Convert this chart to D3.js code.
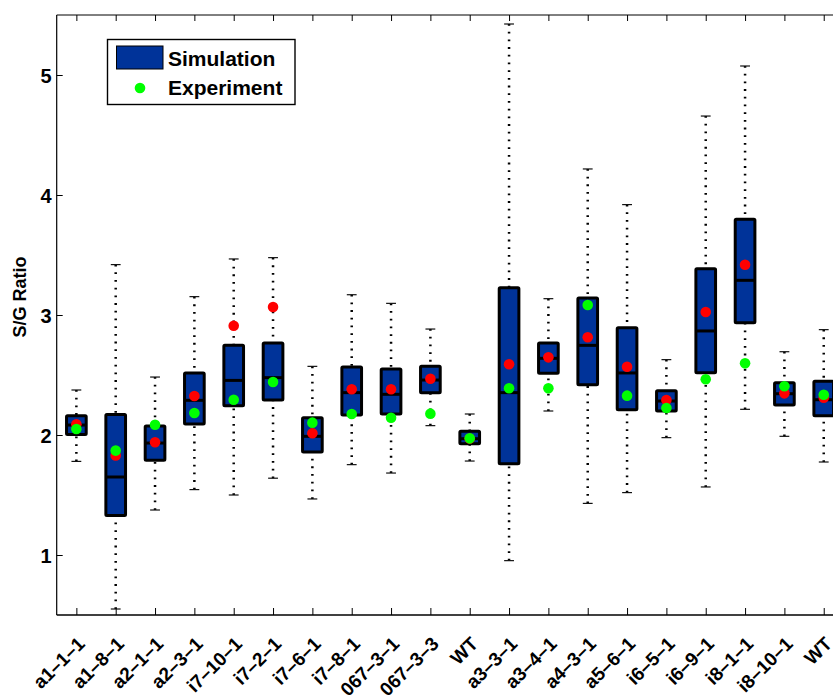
<!DOCTYPE html>
<html>
<head>
<meta charset="utf-8">
<script src="https://cdn.jsdelivr.net/npm/d3@7/dist/d3.min.js"></script>
<style>
  html, body { margin: 0; padding: 0; background: #fff; }
  svg { display: block; }
  text { font-family: "Liberation Sans", Arial, Helvetica, sans-serif; font-weight: bold; fill: #000; }
</style>
</head>
<body>
<svg id="chart" width="833" height="698"></svg>
<script>
// Line names along the x axis
const categories = ["a1–1–1", "a1–8–1", "a2–1–1", "a2–3–1", "i7–10–1", "i7–2–1", "i7–6–1", "i7–8–1",
  "067–3–1", "067–3–3", "WT", "a3–3–1", "a3–4–1", "a4–3–1", "a5–6–1", "i6–5–1", "i6–9–1",
  "i8–1–1", "i8–10–1", "WT"];

// Simulated S/G ratio distributions (box statistics)
const whiskerLow  = [1.78, 0.55, 1.375, 1.545, 1.50, 1.64, 1.467, 1.753, 1.683, 2.078, 1.783, 0.953, 2.20, 1.43, 1.52, 1.978, 1.567, 2.214, 1.989, 1.775];
const q1          = [2.005, 1.33, 1.79, 2.092, 2.244, 2.292, 1.858, 2.167, 2.175, 2.353, 1.928, 1.761, 2.514, 2.419, 2.211, 2.20, 2.519, 2.936, 2.25, 2.161];
const median      = [2.083, 1.65, 1.933, 2.289, 2.455, 2.478, 1.989, 2.353, 2.339, 2.458, 1.969, 2.353, 2.639, 2.747, 2.517, 2.283, 2.867, 3.289, 2.344, 2.294];
const q3          = [2.16, 2.17, 2.075, 2.517, 2.747, 2.767, 2.144, 2.567, 2.55, 2.572, 2.031, 3.228, 2.767, 3.142, 2.894, 2.369, 3.386, 3.797, 2.436, 2.447];
const whiskerHigh = [2.375, 3.42, 2.483, 3.153, 3.467, 3.478, 2.572, 3.169, 3.097, 2.883, 2.175, 5.425, 3.136, 4.217, 3.92, 2.628, 4.658, 5.075, 2.694, 2.878];

// Mean of the simulated values (red) and measured ratio (green)
const simMean    = [2.09, 1.83, 1.94, 2.325, 2.911, 3.067, 2.014, 2.381, 2.381, 2.469, 1.97, 2.589, 2.647, 2.814, 2.569, 2.292, 3.025, 3.419, 2.347, 2.311];
const experiment = [2.05, 1.87, 2.086, 2.183, 2.294, 2.442, 2.103, 2.175, 2.144, 2.178, 1.972, 2.389, 2.389, 3.083, 2.328, 2.225, 2.464, 2.597, 2.406, 2.336];

const yTicks = [1, 2, 3, 4, 5];
const yLabel = "S/G Ratio";
const legendItems = ["Simulation", "Experiment"];

const BOX_FILL = "#003399";
const svg = d3.select("#chart");

const plot = { left: 56.7, right: 843.4, top: 15, bottom: 615 };
const x = d3.scaleLinear().domain([0.5, categories.length + 0.5]).range([plot.left, plot.right]);
const y = d3.scaleLinear().domain([0.5, 5.5]).range([plot.bottom, plot.top]);
const unit = x(2) - x(1);
const boxW = 0.5 * unit;
const capW = 0.25 * unit;

const rows = categories.map((c, i) => ({
  i, c, pos: i + 1,
  lo: whiskerLow[i], q1: q1[i], med: median[i], q3: q3[i], hi: whiskerHigh[i],
  mean: simMean[i], exp: experiment[i]
}));

// Axes frame
const g = svg.append("g");
g.append("line").attr("x1", plot.left).attr("x2", plot.right).attr("y1", plot.top).attr("y2", plot.top)
  .attr("stroke", "#000").attr("stroke-width", 1);
g.append("line").attr("x1", plot.left).attr("x2", plot.right).attr("y1", plot.bottom).attr("y2", plot.bottom)
  .attr("stroke", "#000").attr("stroke-width", 1.4);
g.append("line").attr("x1", plot.left).attr("x2", plot.left).attr("y1", plot.top).attr("y2", plot.bottom)
  .attr("stroke", "#000").attr("stroke-width", 1.2);

// Inward ticks on left, bottom and top
const yAxis = d3.axisLeft(y).tickValues(yTicks).tickSizeInner(-6).tickSizeOuter(0).tickPadding(5).tickFormat(d3.format("d"));
const ya = svg.append("g").attr("transform", `translate(${plot.left},0)`).call(yAxis);
ya.select(".domain").remove();
ya.selectAll(".tick line").attr("stroke", "#000").attr("stroke-width", 1);
ya.selectAll(".tick text").style("font-size", "20px").attr("dy", "0.36em");

const xAxisB = d3.axisBottom(x).tickValues(rows.map(r => r.pos)).tickSizeInner(-7).tickSizeOuter(0).tickFormat(d => categories[d - 1]);
const xb = svg.append("g").attr("transform", `translate(0,${plot.bottom})`).call(xAxisB);
xb.select(".domain").remove();
xb.selectAll(".tick line").attr("stroke", "#000").attr("stroke-width", 1);
xb.selectAll(".tick text")
  .style("font-size", "19px")
  .attr("text-anchor", "end")
  .attr("y", 0).attr("dy", 0)
  .attr("transform", "translate(9,30) rotate(-45)");

const xAxisT = d3.axisTop(x).tickValues(rows.map(r => r.pos)).tickSizeInner(-6).tickSizeOuter(0).tickFormat("");
const xt = svg.append("g").attr("transform", `translate(0,${plot.top})`).call(xAxisT);
xt.select(".domain").remove();
xt.selectAll(".tick line").attr("stroke", "#000").attr("stroke-width", 1);

// Y axis title
svg.append("text")
  .attr("transform", `translate(26,${(plot.top + plot.bottom) / 2 - 18}) rotate(-90)`)
  .attr("text-anchor", "middle")
  .style("font-size", "18px")
  .text(yLabel);

// Boxes
const boxes = svg.append("g").selectAll("g").data(rows).join("g");

// dotted whiskers
boxes.append("line")
  .attr("x1", d => x(d.pos)).attr("x2", d => x(d.pos))
  .attr("y1", d => y(d.hi)).attr("y2", d => y(d.q3))
  .attr("stroke", "#000").attr("stroke-width", 2.5).attr("stroke-dasharray", "1.8,5.9");
boxes.append("line")
  .attr("x1", d => x(d.pos)).attr("x2", d => x(d.pos))
  .attr("y1", d => y(d.lo)).attr("y2", d => y(d.q1))
  .attr("stroke", "#000").attr("stroke-width", 2.5).attr("stroke-dasharray", "1.8,5.9");
// whisker caps
["hi", "lo"].forEach(k => {
  boxes.append("line")
    .attr("x1", d => x(d.pos) - capW / 2).attr("x2", d => x(d.pos) + capW / 2)
    .attr("y1", d => y(d[k])).attr("y2", d => y(d[k]))
    .attr("stroke", "#111").attr("stroke-width", 1.2);
});
// interquartile box
boxes.append("rect")
  .attr("x", d => x(d.pos) - boxW / 2).attr("width", boxW)
  .attr("y", d => y(d.q3)).attr("height", d => y(d.q1) - y(d.q3))
  .attr("fill", BOX_FILL).attr("stroke", "#000").attr("stroke-width", 3)
  .attr("stroke-linejoin", "round").attr("rx", 1);
// median
boxes.append("line")
  .attr("x1", d => x(d.pos) - boxW / 2).attr("x2", d => x(d.pos) + boxW / 2)
  .attr("y1", d => y(d.med)).attr("y2", d => y(d.med))
  .attr("stroke", "#000").attr("stroke-width", 3);

// Simulation means (red) then experimental values (green)
svg.append("g").selectAll("circle").data(rows).join("circle")
  .attr("cx", d => x(d.pos)).attr("cy", d => y(d.mean)).attr("r", 5.3).attr("fill", "#ff0000");
svg.append("g").selectAll("circle").data(rows).join("circle")
  .attr("cx", d => x(d.pos)).attr("cy", d => y(d.exp)).attr("r", 5.3).attr("fill", "#00ff00");

// Legend
const lg = svg.append("g");
lg.append("rect").attr("x", 107.5).attr("y", 39.5).attr("width", 187.5).attr("height", 65)
  .attr("fill", "#fff").attr("stroke", "#000").attr("stroke-width", 1.4);
lg.append("rect").attr("x", 116.5).attr("y", 46).attr("width", 46.5).attr("height", 23)
  .attr("fill", BOX_FILL).attr("stroke", "#000").attr("stroke-width", 1);
lg.append("circle").attr("cx", 140).attr("cy", 88).attr("r", 5.3).attr("fill", "#00ff00");
lg.selectAll("text.lbl").data(legendItems).join("text").attr("class", "lbl")
  .attr("x", 168).attr("y", (d, i) => 65.5 + i * 29.5)
  .style("font-size", "21px").text(d => d);
</script>
</body>
</html>
